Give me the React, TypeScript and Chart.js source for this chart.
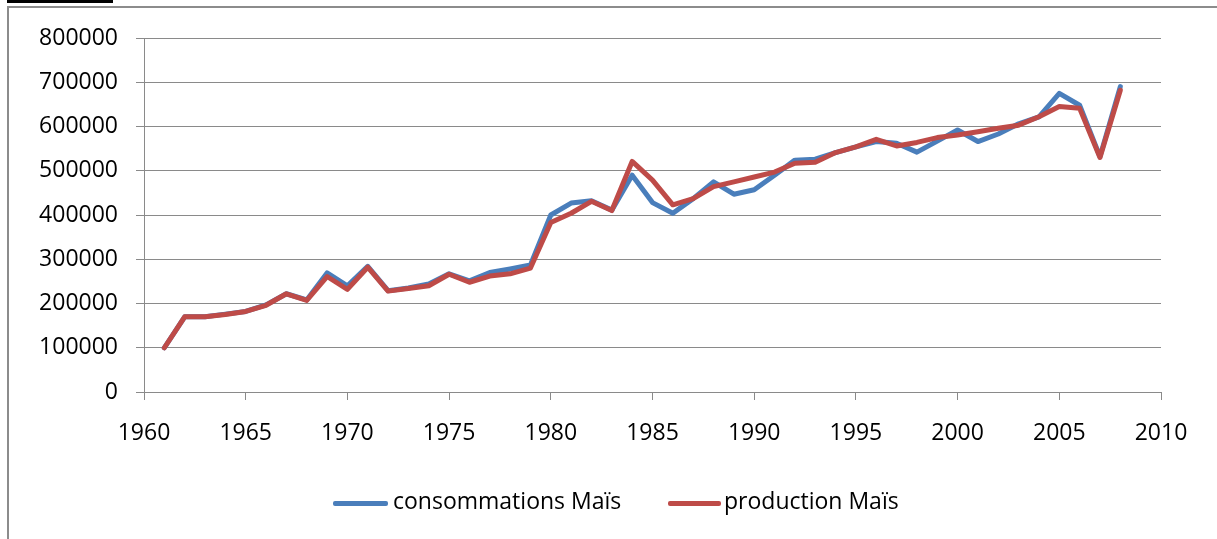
import React, { useEffect, useRef } from "react";
import { Chart, registerables } from "chart.js";

Chart.register(...registerables);

const years: number[] = [
  1961, 1962, 1963, 1964, 1965, 1966, 1967, 1968, 1969, 1970,
  1971, 1972, 1973, 1974, 1975, 1976, 1977, 1978, 1979, 1980,
  1981, 1982, 1983, 1984, 1985, 1986, 1987, 1988, 1989, 1990,
  1991, 1992, 1993, 1994, 1995, 1996, 1997, 1998, 1999, 2000,
  2001, 2002, 2003, 2004, 2005, 2006, 2007, 2008,
];

const consommations: number[] = [
  100000, 170000, 170000, 176000, 182000, 197000, 222000, 208000, 269000, 240000,
  284000, 229000, 235000, 244000, 267000, 251000, 270000, 278000, 287000, 400000,
  427000, 432000, 411000, 490000, 428000, 404000, 437000, 475000, 447000, 457000,
  490000, 524000, 526000, 541000, 554000, 566000, 562000, 542000, 567000, 592000,
  566000, 583000, 606000, 622000, 675000, 648000, 532000, 690000,
];

const production: number[] = [
  100000, 170000, 170000, 175000, 182000, 196000, 222000, 207000, 261000, 232000,
  282000, 228000, 234000, 240000, 266000, 248000, 262000, 267000, 280000, 383000,
  404000, 431000, 410000, 521000, 479000, 423000, 437000, 464000, 475000, 486000,
  497000, 517000, 519000, 541000, 554000, 571000, 556000, 564000, 575000, 581000,
  588000, 596000, 603000, 622000, 645000, 641000, 530000, 682000,
];

const seriesLabels: string[] = ["consommations Maïs", "production Maïs"];
const seriesColors: string[] = ["#4A7EBB", "#BE4B48"];

const X_MIN = 1960;
const X_MAX = 2010;
const X_STEP = 5;
const Y_MIN = 0;
const Y_MAX = 800000;
const Y_STEP = 100000;

const FONT = "'Open Sans', 'DejaVu Sans', sans-serif";
const GRID = "#8a8a8a";

export default function App() {
  const canvasRef = useRef<HTMLCanvasElement | null>(null);

  useEffect(() => {
    if (!canvasRef.current) return;
    const chart = new Chart(canvasRef.current, {
      type: "line",
      data: {
        datasets: [
          {
            label: seriesLabels[0],
            data: years.map((y, i) => ({ x: y, y: consommations[i] })),
            borderColor: seriesColors[0],
            backgroundColor: seriesColors[0],
            borderWidth: 5,
            pointRadius: 0,
            tension: 0,
            borderJoinStyle: "round",
            borderCapStyle: "round",
            order: 1,
          },
          {
            label: seriesLabels[1],
            data: years.map((y, i) => ({ x: y, y: production[i] })),
            borderColor: seriesColors[1],
            backgroundColor: seriesColors[1],
            borderWidth: 5,
            pointRadius: 0,
            tension: 0,
            borderJoinStyle: "round",
            borderCapStyle: "round",
            order: 0,
          },
        ],
      },
      options: {
        animation: false,
        responsive: false,
        maintainAspectRatio: false,
        layout: { padding: { top: 38, right: 56, bottom: 0, left: 0 } },
        plugins: {
          legend: { display: false },
          tooltip: { enabled: false },
        },
        scales: {
          x: {
            type: "linear",
            min: X_MIN,
            max: X_MAX,
            afterFit: (axis: any) => {
              axis.height = 147;
            },
            ticks: {
              stepSize: X_STEP,
              padding: 20,
              color: "#000",
              font: { family: FONT, size: 23 },
              callback: (v: any) => String(v),
              maxRotation: 0,
            },
            grid: {
              drawOnChartArea: false,
              drawTicks: true,
              tickLength: 8,
              color: GRID,
            },
            border: { color: GRID, width: 1 },
          },
          y: {
            min: Y_MIN,
            max: Y_MAX,
            afterFit: (axis: any) => {
              axis.width = 144;
            },
            ticks: {
              stepSize: Y_STEP,
              padding: 18,
              color: "#000",
              font: { family: FONT, size: 23 },
              callback: (v: any) => String(v),
            },
            grid: {
              color: GRID,
              drawTicks: true,
              tickLength: 8,
            },
            border: { color: GRID, width: 1 },
          },
        },
      },
    });
    return () => chart.destroy();
  }, []);

  const legendText: React.CSSProperties = {
    position: "absolute",
    top: 485,
    fontFamily: FONT,
    fontSize: 23,
    lineHeight: "30px",
    color: "#000",
    whiteSpace: "nowrap",
  };
  const legendLine = (left: number, width: number, color: string): React.CSSProperties => ({
    position: "absolute",
    left,
    top: 501,
    width,
    height: 5,
    borderRadius: 2,
    background: color,
  });

  return (
    <div
      style={{
        position: "fixed",
        left: 0,
        top: 0,
        width: 1217,
        height: 539,
        background: "#fff",
        overflow: "hidden",
      }}
    >
      <div style={{ position: "absolute", left: 7, top: 0, width: 106, height: 3, background: "#000" }} />
      <div
        style={{
          position: "absolute",
          left: 7,
          top: 6,
          width: 1220,
          height: 540,
          borderLeft: "2px solid #8c8c8c",
          borderTop: "2px solid #8c8c8c",
        }}
      />
      <canvas
        ref={canvasRef}
        width={1217}
        height={539}
        style={{ position: "absolute", left: 0, top: 0, width: 1217, height: 539 }}
      />
      <div style={legendLine(333, 55, seriesColors[0])} />
      <div style={{ ...legendText, left: 393 }}>{seriesLabels[0]}</div>
      <div style={legendLine(668, 53, seriesColors[1])} />
      <div style={{ ...legendText, left: 724 }}>{seriesLabels[1]}</div>
    </div>
  );
}
